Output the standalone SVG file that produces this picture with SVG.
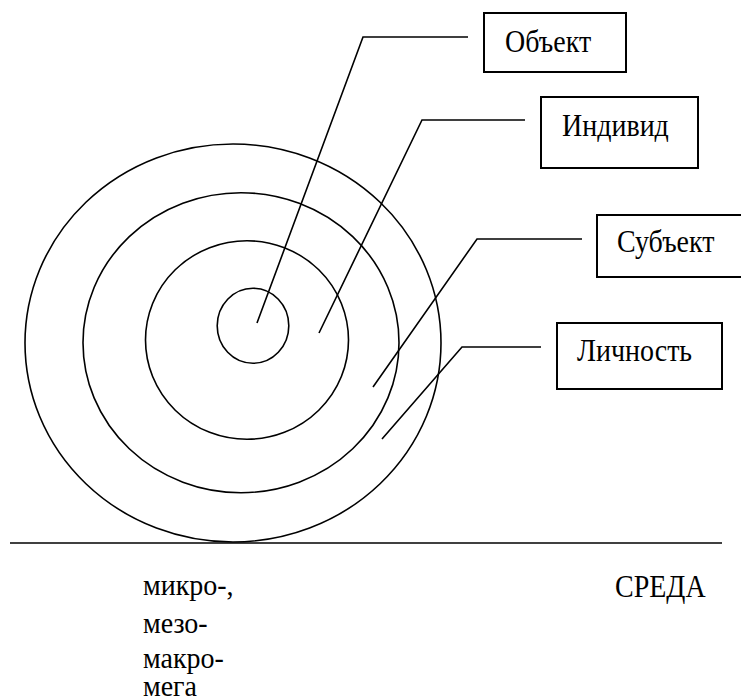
<svg xmlns="http://www.w3.org/2000/svg" width="741" height="700" viewBox="0 0 741 700">
<style>
.ln{fill:none;stroke:#000;stroke-width:1.6}
.bx{fill:#fff;stroke:#000;stroke-width:2}
.t{font-family:'Liberation Serif','DejaVu Serif',serif;font-size:28px;fill:#000}
</style>
<rect width="741" height="700" fill="#fff"/>
<g id="rings">
<ellipse class="ln" cx="233" cy="343" rx="208" ry="199"/>
<ellipse class="ln" cx="241" cy="342.7" rx="158" ry="150"/>
<ellipse class="ln" cx="247" cy="340" rx="101.5" ry="99.3"/>
<ellipse class="ln" cx="253" cy="325.8" rx="35.8" ry="37.5"/>
</g>
<g id="ground">
<line class="ln" x1="10" y1="543" x2="722" y2="543" stroke-width="2"/>
</g>
<g id="connectors">
<polyline class="ln" points="257,323 363,37 468,37"/>
<polyline class="ln" points="319,333 422,120 525,120"/>
<polyline class="ln" points="373,387 477,239 582,239"/>
<polyline class="ln" points="382,439 462,347 541,347"/>
</g>
<g id="obekt">
<rect class="bx" x="484" y="13" width="142" height="59"/>
<text class="t" transform="translate(505,52) scale(1,1.1)">Объект</text>
</g>
<g id="individ">
<rect class="bx" x="541" y="97" width="157" height="71"/>
<text class="t" transform="translate(562,136) scale(1,1.1)">Индивид</text>
</g>
<g id="subekt">
<rect class="bx" x="597" y="215" width="160" height="62"/>
<text class="t" transform="translate(617,252) scale(1,1.1)">Субъект</text>
</g>
<g id="lichnost">
<rect class="bx" x="557" y="323" width="165" height="66"/>
<text class="t" transform="translate(577,361) scale(1,1.1)">Личность</text>
</g>
<g id="levels">
<text class="t" transform="translate(143,595) scale(1,1.05)">микро-,</text>
<text class="t" transform="translate(143,633) scale(1,1.05)">мезо-</text>
<text class="t" transform="translate(143,668) scale(1,1.05)">макро-</text>
<text class="t" transform="translate(143,696) scale(1,1.05)">мега</text>
</g>
<g id="sreda">
<text class="t" transform="translate(615,597) scale(1,1.1)">СРЕДА</text>
</g>
</svg>
